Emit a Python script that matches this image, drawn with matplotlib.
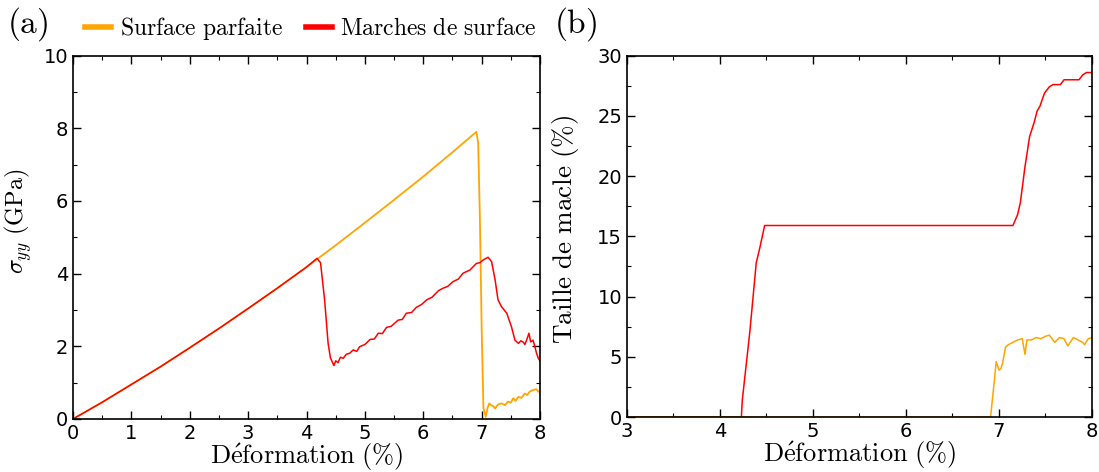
import matplotlib
matplotlib.use('Agg')
import matplotlib.pyplot as plt
from matplotlib.ticker import MultipleLocator

plt.rcParams['mathtext.fontset'] = 'cm'
plt.rcParams['font.family'] = 'DejaVu Sans'

# (a) stress-strain curves
x_parf_a = [0, 0.5, 1, 1.5, 2, 2.5, 3, 3.5, 4, 4.5, 5, 5.5, 6, 6.5, 6.85, 6.91, 6.94,
            6.97, 7.0, 7.03, 7.07, 7.1, 7.13, 7.16, 7.2, 7.23, 7.28, 7.34, 7.4, 7.45,
            7.5, 7.54, 7.58, 7.63, 7.68, 7.74, 7.78, 7.82, 7.88, 7.94, 7.97, 8.0]
s_parf = [0, 0.46, 0.95, 1.44, 1.96, 2.49, 3.04, 3.60, 4.18, 4.78, 5.40, 6.03, 6.67,
          7.34, 7.82, 7.9, 7.6, 5.5, 2.5, 0.3, 0.06, 0.3, 0.43, 0.38, 0.35, 0.29, 0.4,
          0.43, 0.38, 0.48, 0.45, 0.57, 0.5, 0.61, 0.58, 0.70, 0.66, 0.75, 0.8, 0.82,
          0.75, 0.78]

x_marc_a = [0, 0.5, 1, 1.5, 2, 2.5, 3, 3.5, 4, 4.18, 4.24, 4.31, 4.37, 4.41, 4.47, 4.5,
            4.54, 4.58, 4.63, 4.68, 4.74, 4.8, 4.86, 4.91, 5.0, 5.09, 5.16, 5.23, 5.3,
            5.37, 5.45, 5.57, 5.64, 5.71, 5.8, 5.88, 5.97, 6.06, 6.15, 6.26, 6.34, 6.42,
            6.51, 6.6, 6.68, 6.8, 6.91, 6.97, 7.03, 7.11, 7.17, 7.23, 7.28, 7.34, 7.43,
            7.51, 7.57, 7.63, 7.67, 7.71, 7.74, 7.77, 7.81, 7.84, 7.88, 7.91, 7.94,
            7.97, 8.0]
s_marc = [0, 0.46, 0.95, 1.44, 1.96, 2.49, 3.04, 3.60, 4.18, 4.42, 4.3, 3.28, 2.08,
          1.68, 1.47, 1.6, 1.55, 1.7, 1.67, 1.78, 1.81, 1.9, 1.86, 1.99, 2.05, 2.19,
          2.2, 2.36, 2.35, 2.52, 2.55, 2.72, 2.74, 2.91, 2.93, 3.07, 3.15, 3.28, 3.35,
          3.53, 3.6, 3.65, 3.78, 3.85, 4.01, 4.1, 4.28, 4.3, 4.38, 4.45, 4.33, 3.83,
          3.28, 3.09, 2.91, 2.54, 2.17, 2.08, 2.15, 2.12, 2.05, 2.17, 2.36, 2.12, 2.17,
          2.0, 1.81, 1.67, 1.6]

# (b) twin size
x_parf_b = [3, 6.91, 6.95, 6.97, 7.0, 7.02, 7.04, 7.07, 7.1, 7.15, 7.2, 7.25, 7.28, 7.3,
            7.35, 7.4, 7.45, 7.5, 7.54, 7.6, 7.65, 7.7, 7.74, 7.8, 7.85, 7.9, 7.92,
            7.96, 8.0]
t_parf = [0, 0, 3.0, 4.6, 3.9, 4.0, 4.5, 5.8, 6.0, 6.2, 6.4, 6.5, 5.2, 6.4, 6.4, 6.6,
          6.5, 6.7, 6.8, 6.2, 6.6, 6.5, 5.9, 6.6, 6.4, 6.2, 6.0, 6.5, 6.6]

x_marc_b = [3, 4.23, 4.24, 4.32, 4.39, 4.43, 4.48, 7.15, 7.2, 7.23, 7.28, 7.33, 7.38,
            7.41, 7.44, 7.49, 7.54, 7.58, 7.66, 7.70, 7.86, 7.90, 7.94, 8.0]
t_marc = [0, 0, 1.4, 7.0, 12.8, 14.1, 15.9, 15.9, 16.8, 17.8, 20.8, 23.3, 24.5, 25.4,
          25.8, 26.9, 27.4, 27.6, 27.6, 28.0, 28.0, 28.4, 28.6, 28.6]

c_parf = '#FFA500'
c_marc = '#FF0000'

fig = plt.figure(figsize=(10.99, 4.72), dpi=100)
ax1 = fig.add_axes([0.0664, 0.1123, 0.425, 0.770])
ax2 = fig.add_axes([0.5705, 0.1165, 0.4231, 0.7655])

l1, = ax1.plot(x_parf_a, s_parf, color=c_parf, lw=1.3)
l2, = ax1.plot(x_marc_a, s_marc, color=c_marc, lw=1.1)
ax1.set_xlim(0, 8)
ax1.set_ylim(0, 10)
ax1.xaxis.set_major_locator(MultipleLocator(1))
ax1.xaxis.set_minor_locator(MultipleLocator(0.5))
ax1.yaxis.set_major_locator(MultipleLocator(2))
ax1.yaxis.set_minor_locator(MultipleLocator(1))
ax1.set_ylabel(r'$\sigma_{yy}\ \mathrm{(GPa)}$', fontsize=17.5)
ax1.yaxis.set_label_coords(-0.083, 0.545)

ax2.plot(x_marc_b, t_marc, color=c_marc, lw=1.1)
ax2.plot(x_parf_b, t_parf, color=c_parf, lw=1.1)
ax2.set_xlim(3, 8)
ax2.set_ylim(0, 30)
ax2.xaxis.set_major_locator(MultipleLocator(1))
ax2.xaxis.set_minor_locator(MultipleLocator(0.5))
ax2.yaxis.set_major_locator(MultipleLocator(5))
ax2.yaxis.set_minor_locator(MultipleLocator(2.5))
ax2.set_ylabel(r'$\mathrm{Taille\ de\ macle\ (\%)}$', fontsize=19.5)
ax2.yaxis.set_label_coords(-0.098, 0.52)

for ax in (ax1, ax2):
    ax.set_xlabel(r'$\mathrm{D\acute{e}formation\ (\%)}$', fontsize=19, labelpad=-1)
    ax.tick_params(which='both', direction='in', top=True, right=True, labelsize=14)
    ax.tick_params(which='major', length=6, width=1)
    ax.tick_params(which='minor', length=3, width=0.8)
    for s in ax.spines.values():
        s.set_linewidth(1.2)

fig.legend([l1, l2], [r'$\mathrm{Surface\ parfaite}$', r'$\mathrm{Marches\ de\ surface}$'],
           loc='center', bbox_to_anchor=(0.283, 0.94), ncol=2, frameon=False,
           fontsize=17, handlelength=1.1, handletextpad=0.35, columnspacing=1.0,
           borderpad=0.1)
for h in fig.legends[0].get_lines():
    h.set_linewidth(4)

fig.text(0.006, 0.948, r'$\mathrm{(a)}$', fontsize=24, va='center')
fig.text(0.504, 0.948, r'$\mathrm{(b)}$', fontsize=24, va='center')

plt.savefig('out.png', dpi=100)
